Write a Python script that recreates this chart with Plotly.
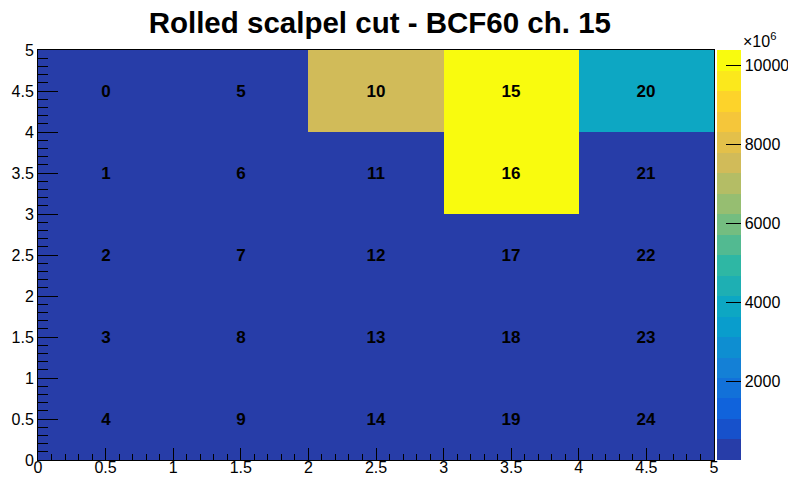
import plotly.graph_objects as go

# Channel numbers and their integrated signal (units of 1e6), channel = 5*column + row-from-top
channels = list(range(25))
signal = [
    60, 45, 40, 35, 30,        # column 0
    55, 50, 45, 40, 35,        # column 1
    7500, 90, 60, 45, 40,      # column 2
    10400, 10250, 120, 60, 45, # column 3
    3900, 150, 70, 50, 40,     # column 4
]
x_centers = [0.5, 1.5, 2.5, 3.5, 4.5]
y_centers = [0.5, 1.5, 2.5, 3.5, 4.5]
cbar_ticks = [2000, 4000, 6000, 8000, 10000]
z_min, z_max = 0, 10400
n_levels = 20

# ROOT "kBird" palette stops
stops = [0.0, 0.125, 0.25, 0.375, 0.5, 0.625, 0.75, 0.875, 1.0]
red = [0.2082, 0.0592, 0.0780, 0.0232, 0.1802, 0.5301, 0.8186, 0.9956, 0.9764]
green = [0.1664, 0.3599, 0.5041, 0.6419, 0.7178, 0.7492, 0.7328, 0.7862, 0.9832]
blue = [0.5293, 0.8684, 0.8385, 0.7914, 0.6425, 0.4662, 0.3499, 0.1968, 0.0539]


def bird(t):
    for k in range(len(stops) - 1):
        if t <= stops[k + 1]:
            f = (t - stops[k]) / (stops[k + 1] - stops[k])
            r = red[k] + f * (red[k + 1] - red[k])
            g = green[k] + f * (green[k + 1] - green[k])
            b = blue[k] + f * (blue[k + 1] - blue[k])
            return "rgb(%d,%d,%d)" % (round(r * 255), round(g * 255), round(b * 255))
    return "rgb(249,251,14)"


# Discrete 20-level colour scale, as in a COLZ plot
colorscale = []
for i in range(n_levels):
    idx = int((i + 0.99) * 255 / n_levels)
    c = bird(idx / 254)
    colorscale.append([i / n_levels, c])
    colorscale.append([(i + 1) / n_levels, c])

# Arrange into grid rows (bottom to top) x columns
z = [[0] * 5 for _ in range(5)]
labels = [[""] * 5 for _ in range(5)]
for ch, v in zip(channels, signal):
    col = ch // 5
    row = 4 - ch % 5
    z[row][col] = v
    labels[row][col] = str(ch)

fig = go.Figure(go.Heatmap(
    x=x_centers, y=y_centers, z=z,
    zmin=z_min, zmax=z_max,
    colorscale=colorscale,
    text=labels, texttemplate="%{text}",
    textfont=dict(family="Liberation Sans", size=17, color="black", weight="bold"),
    hoverinfo="skip",
    colorbar=dict(
        x=1.0044, xanchor="left", xref="paper",
        y=0.5, yanchor="middle", len=1.0, lenmode="fraction",
        thickness=24, outlinewidth=0,
        tickvals=cbar_ticks, ticktext=[str(t) for t in cbar_ticks],
        ticks="inside", ticklen=15, tickcolor="black", tickwidth=1,
        tickfont=dict(family="Liberation Sans", size=16, color="black"),
        ypad=0, xpad=0,
    ),
))

axis_common = dict(
    range=[0, 5], dtick=0.5, tick0=0, ticks="inside", tickcolor="black",
    tickwidth=1, showgrid=False, zeroline=False,
    showline=True, linecolor="black", linewidth=1, mirror=True,
    tickfont=dict(family="Liberation Sans", size=16, color="black"),
)

fig.update_xaxes(**axis_common, ticklen=12, ticklabelstandoff=-7,
                 minor=dict(dtick=0.1, ticks="inside", ticklen=6, tickcolor="black"))
fig.update_yaxes(**axis_common, ticklen=20,
                 minor=dict(dtick=0.1, ticks="inside", ticklen=10, tickcolor="black"))

fig.update_layout(
    width=788, height=478,
    margin=dict(l=38, r=74, t=50, b=18, autoexpand=False),
    paper_bgcolor="white", plot_bgcolor="white",
    title=dict(text="Rolled scalpel cut - BCF60 ch. 15", x=0.482, xanchor="center",
               xref="container", y=0.953, yanchor="middle", yref="container",
               font=dict(family="Liberation Sans", size=29.5, color="black", weight="bold")),
    annotations=[dict(text="×10<sup>6</sup>", xref="paper", yref="paper",
                      x=1.04, y=1.0, xanchor="left", yanchor="bottom",
                      showarrow=False, yshift=-2,
                      font=dict(family="Liberation Sans", size=16, color="black"))],
)

fig.write_html("out.html")
